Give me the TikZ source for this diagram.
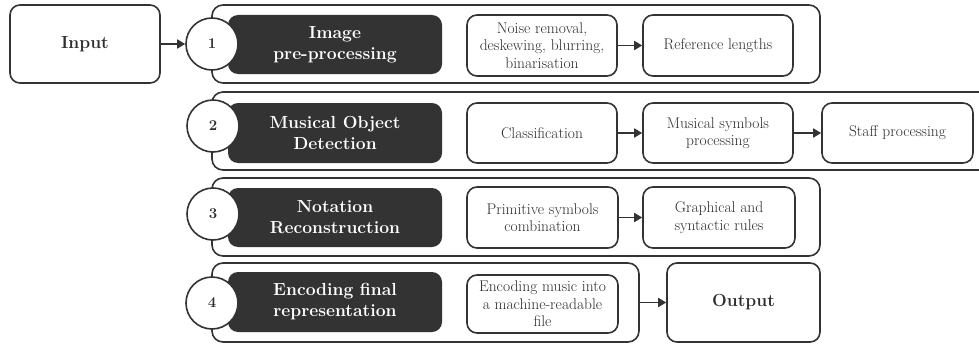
\documentclass[tikz,border=0pt]{standalone}
\usepackage{fontspec}
\usetikzlibrary{arrows.meta}
\definecolor{ink}{HTML}{333333}
\definecolor{txt}{HTML}{2E2E2E}
\begin{document}
\begin{tikzpicture}[x=1pt,y=-1pt,
  box/.style={draw=ink,line width=1.6pt,rounded corners=10pt,fill=white,inner sep=0pt,align=center,text=txt,font=\fontsize{15.5}{17.5}\selectfont},
  bigbox/.style={box,font=\fontsize{17.5}{21}\selectfont\bfseries},
  outer/.style={draw=ink,line width=1.6pt,rounded corners=11pt,inner sep=0pt},
  dark/.style={fill=ink,rounded corners=10pt,inner sep=0pt,align=center,text=white,font=\fontsize{17.5}{21}\selectfont\bfseries},
  num/.style={circle,draw=ink,line width=1.6pt,fill=white,minimum size=52pt,inner sep=0pt,text=txt,font=\fontsize{15}{17}\selectfont\bfseries},
  arr/.style={draw=ink,line width=1.6pt,-{Triangle[length=8pt,width=9pt]}}]
\useasboundingbox[fill=white] (0,0) rectangle (979,345);
% containers
\node[outer,minimum width=608pt,minimum height=78pt] (o1) at (516,44) {};
\node[outer,minimum width=778pt,minimum height=78pt] (o2) at (601,131) {};
\node[outer,minimum width=608pt,minimum height=78pt] (o3) at (516,217) {};
\node[outer,minimum width=427pt,minimum height=79pt] (o4) at (425.5,302.5) {};
% dark boxes
\node[dark,minimum width=214pt,minimum height=59pt] (d1) at (335,44.5) {Image\\pre-processing};
\node[dark,minimum width=214pt,minimum height=60pt] (d2) at (335,133) {Musical Object\\Detection};
\node[dark,minimum width=214pt,minimum height=59pt] (d3) at (335,217.5) {Notation\\Reconstruction};
\node[dark,minimum width=214pt,minimum height=60pt] (d4) at (335,302) {Encoding final\\representation};
% circles
\node[num] (c1) at (212,44) {1};
\node[num] (c2) at (213,126) {2};
\node[num] (c3) at (213,214) {3};
\node[num] (c4) at (212,303) {4};
% input / output
\node[bigbox,minimum width=150pt,minimum height=78pt] (in) at (85,44) {Input};
\node[bigbox,minimum width=153pt,minimum height=79pt] (out) at (743.5,302.5) {Output};
% inner boxes
\node[box,minimum width=150pt,minimum height=61pt] (b11) at (542,45.5) {Noise removal,\\deskewing, blurring,\\binarisation};
\node[box,minimum width=150pt,minimum height=61pt] (b12) at (718,45.5) {Reference lengths};
\node[box,minimum width=150pt,minimum height=60pt] (b21) at (542,133) {Classification};
\node[box,minimum width=150pt,minimum height=60pt] (b22) at (718,133) {Musical symbols\\processing};
\node[box,minimum width=151pt,minimum height=60pt] (b23) at (897.5,133) {Staff processing};
\node[box,minimum width=151pt,minimum height=61pt] (b31) at (542.5,217.5) {Primitive symbols\\combination};
\node[box,minimum width=152pt,minimum height=61pt] (b32) at (719,217.5) {Graphical and\\syntactic rules};
\node[box,minimum width=151pt,minimum height=58pt] (b41) at (542.5,304) {Encoding music into\\a machine-readable\\file};
% arrows
\draw[arr] (in) -- (c1);
\draw[arr] (b11) -- (b12);
\draw[arr] (b21) -- (b22);
\draw[arr] (b22) -- (b23);
\draw[arr] (b31) -- (b32);
\draw[arr] (o4.east |- out.west) -- (out.west);
\end{tikzpicture}
\end{document}
